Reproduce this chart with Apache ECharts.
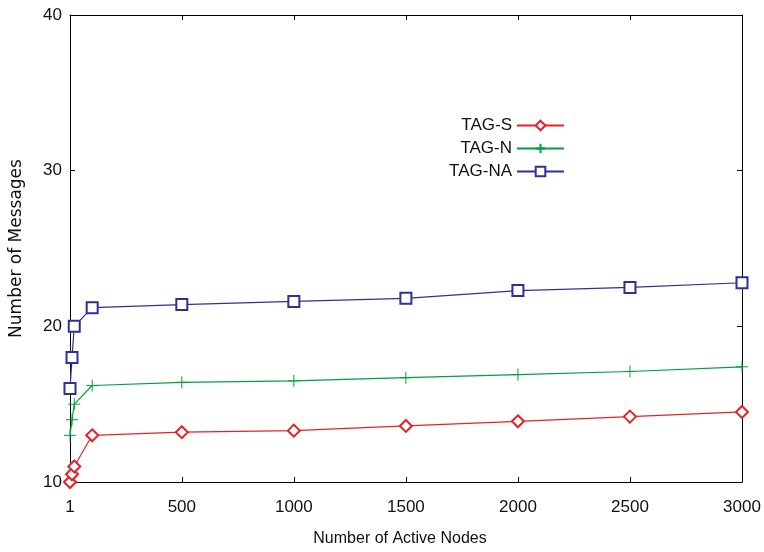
<!DOCTYPE html>
<html>
<head>
<meta charset="utf-8">
<script src="https://cdn.jsdelivr.net/npm/echarts@6/dist/echarts.min.js"></script>
<style>html,body{margin:0;padding:0;background:#fff;}#c{width:764px;height:552px;}</style>
</head>
<body>
<div id="c"></div>
<script>
const xValues = [1, 10, 20, 100, 500, 1000, 1500, 2000, 2500, 3000];
const tagS  = [10.0, 10.5, 11.0, 13.0, 13.2, 13.3, 13.6, 13.9, 14.2, 14.5];
const tagN  = [13.0, 14.0, 15.0, 16.2, 16.4, 16.5, 16.7, 16.9, 17.1, 17.4];
const tagNA = [16.0, 18.0, 20.0, 21.2, 21.4, 21.6, 21.8, 22.3, 22.5, 22.8];
const xTicks = [1, 500, 1000, 1500, 2000, 2500, 3000];
const yTicks = [10, 20, 30, 40];
const seriesNames = ['TAG-S', 'TAG-N', 'TAG-NA'];

const FONT = 'Liberation Sans';
const pairs = ys => xValues.map((x, i) => [x, ys[i]]);
const plusPath = 'path://M0,5L10,5M5,0L5,10';

const chart = echarts.init(document.getElementById('c'), null, {renderer: 'canvas'});

function xAxisDef(pos, show) {
  return {
    type: 'value', position: pos, min: 1, max: 3000,
    axisLine: {show: true, onZero: false, lineStyle: {color: '#000', width: 1}},
    axisTick: {show: true, inside: true, length: 5, customValues: xTicks, lineStyle: {color: '#000'}},
    axisLabel: {show: show, customValues: xTicks, fontFamily: FONT, fontSize: 17, color: '#111', margin: 17,
      formatter: v => String(v)},
    splitLine: {show: false},
    name: show ? 'Number of Active Nodes' : '',
    nameLocation: 'middle', nameGap: 49,
    nameTextStyle: {fontFamily: FONT, fontSize: 16, color: '#111', padding: [0, 12, 0, 0]}
  };
}
function yAxisDef(pos, show) {
  return {
    type: 'value', position: pos, min: 10, max: 40, interval: 10,
    axisLine: {show: true, onZero: false, lineStyle: {color: '#000', width: 1}},
    axisTick: {show: true, inside: true, length: 5, lineStyle: {color: '#000'}},
    axisLabel: {show: show, fontFamily: FONT, fontSize: 17, color: '#111', margin: 8,
      customValues: yTicks},
    splitLine: {show: false},
    name: show ? 'Number of Messages' : '',
    nameLocation: 'middle', nameGap: 45,
    nameTextStyle: {fontFamily: 'DejaVu Sans', fontSize: 17, color: '#111'}
  };
}

const colors = ['#e42227', '#00a03e', '#2e3192'];

chart.setOption({
  animation: false,
  backgroundColor: '#fff',
  grid: {left: 69, right: 22, top: 15, bottom: 64, containLabel: false},
  xAxis: [xAxisDef('bottom', true), xAxisDef('top', false)],
  yAxis: [yAxisDef('left', true), yAxisDef('right', false)],
  legend: {
    orient: 'vertical', align: 'right', right: 199, top: 117,
    padding: 0, itemWidth: 47, itemHeight: 12, itemGap: 6,
    textStyle: {fontFamily: FONT, fontSize: 17, color: '#111'},
    data: seriesNames
  },
  series: [
    {
      name: seriesNames[0], type: 'line', data: pairs(tagS), clip: false,
      symbol: 'emptyDiamond', symbolSize: 12,
      lineStyle: {color: colors[0], width: 1.2},
      itemStyle: {color: colors[0], borderWidth: 1}
    },
    {
      name: seriesNames[1], type: 'line', data: pairs(tagN), clip: false,
      symbol: plusPath, symbolSize: 12,
      lineStyle: {color: colors[1], width: 1.2},
      itemStyle: {color: colors[1], borderColor: colors[1], borderWidth: 1}
    },
    {
      name: seriesNames[2], type: 'line', data: pairs(tagNA), clip: false,
      symbol: 'emptyRect', symbolSize: 11,
      lineStyle: {color: colors[2], width: 1.2},
      itemStyle: {color: colors[2], borderWidth: 1}
    }
  ]
});
</script>
</body>
</html>
